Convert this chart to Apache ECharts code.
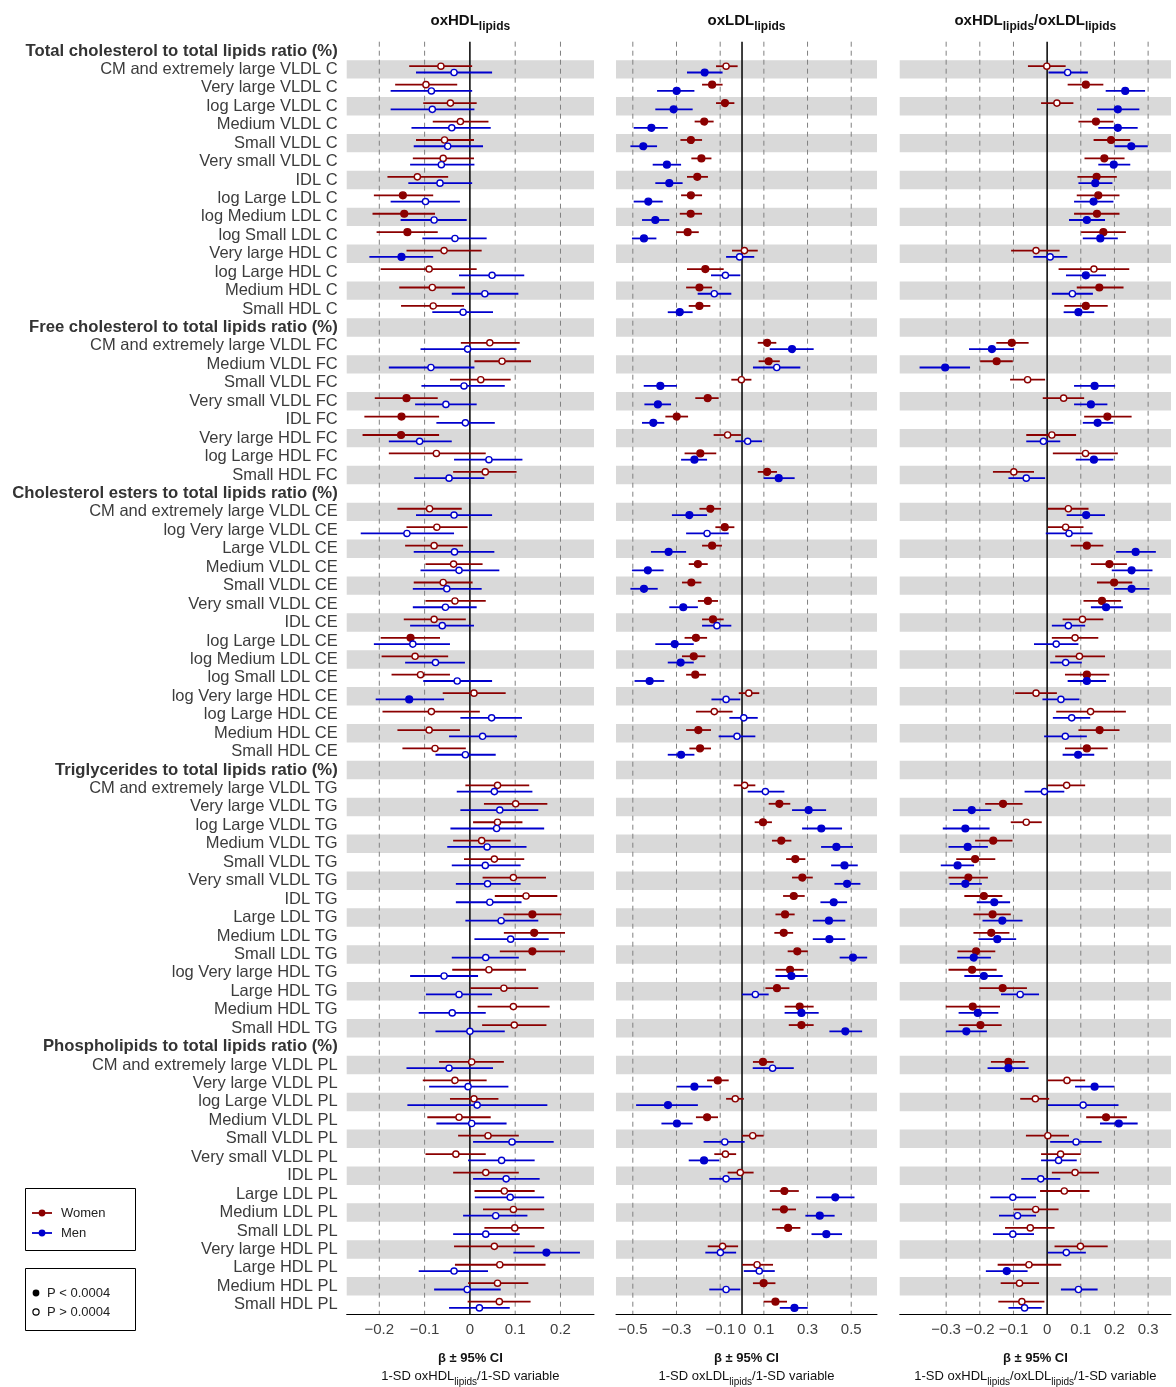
<!DOCTYPE html>
<html>
<head>
<meta charset="utf-8">
<script src="https://cdn.jsdelivr.net/npm/echarts@6/dist/echarts.min.js"></script>
<style>
  html, body { margin: 0; padding: 0; background: #fff; }
  #chart { width: 1176px; height: 1387px; }
</style>
</head>
<body>
<div id="chart"></div>
<script>
// Row labels, top to bottom; section headings are listed in headerRows
const rowLabels = [
  'Total cholesterol to total lipids ratio (%)',
  'CM and extremely large VLDL C', 'Very large VLDL C', 'log Large VLDL C', 'Medium VLDL C',
  'Small VLDL C', 'Very small VLDL C', 'IDL C', 'log Large LDL C', 'log Medium LDL C',
  'log Small LDL C', 'Very large HDL C', 'log Large HDL C', 'Medium HDL C', 'Small HDL C',
  'Free cholesterol to total lipids ratio (%)',
  'CM and extremely large VLDL FC', 'Medium VLDL FC', 'Small VLDL FC', 'Very small VLDL FC',
  'IDL FC', 'Very large HDL FC', 'log Large HDL FC', 'Small HDL FC',
  'Cholesterol esters to total lipids ratio (%)',
  'CM and extremely large VLDL CE', 'log Very large VLDL CE', 'Large VLDL CE', 'Medium VLDL CE',
  'Small VLDL CE', 'Very small VLDL CE', 'IDL CE', 'log Large LDL CE', 'log Medium LDL CE',
  'log Small LDL CE', 'log Very large HDL CE', 'log Large HDL CE', 'Medium HDL CE', 'Small HDL CE',
  'Triglycerides to total lipids ratio (%)',
  'CM and extremely large VLDL TG', 'Very large VLDL TG', 'log Large VLDL TG', 'Medium VLDL TG',
  'Small VLDL TG', 'Very small VLDL TG', 'IDL TG', 'Large LDL TG', 'Medium LDL TG',
  'Small LDL TG', 'log Very large HDL TG', 'Large HDL TG', 'Medium HDL TG', 'Small HDL TG',
  'Phospholipids to total lipids ratio (%)',
  'CM and extremely large VLDL PL', 'Very large VLDL PL', 'log Large VLDL PL', 'Medium VLDL PL',
  'Small VLDL PL', 'Very small VLDL PL', 'IDL PL', 'Large LDL PL', 'Medium LDL PL',
  'Small LDL PL', 'Very large HDL PL', 'Large HDL PL', 'Medium HDL PL', 'Small HDL PL'
];
const headerRows = [0, 15, 24, 39, 54];

// Each entry: [beta, lower 95% CI, upper 95% CI, significant (P < 0.0004)]; null on heading rows
const oxHdlWomen = [
  null,
  [-0.064,-0.134,0.005,0],[-0.097,-0.165,-0.028,0],[-0.043,-0.103,0.015,0],[-0.021,-0.082,0.041,0],
  [-0.056,-0.119,0.009,0],[-0.059,-0.126,0.009,0],[-0.116,-0.182,-0.048,0],[-0.148,-0.212,-0.081,1],
  [-0.145,-0.215,-0.077,1],[-0.138,-0.206,-0.071,1],[-0.057,-0.140,0.026,0],[-0.090,-0.197,0.015,0],
  [-0.083,-0.156,-0.011,0],[-0.081,-0.152,-0.013,0],
  null,
  [0.044,-0.020,0.110,0],[0.071,0.010,0.135,0],[0.024,-0.044,0.090,0],[-0.140,-0.210,-0.071,1],
  [-0.151,-0.233,-0.068,1],[-0.152,-0.237,-0.068,1],[-0.074,-0.179,0.035,0],[0.034,-0.037,0.103,0],
  null,
  [-0.089,-0.160,-0.018,0],[-0.073,-0.140,-0.005,0],[-0.079,-0.143,-0.015,0],[-0.036,-0.098,0.028,0],
  [-0.059,-0.124,0.006,0],[-0.033,-0.098,0.035,0],[-0.079,-0.146,-0.009,0],[-0.131,-0.197,-0.066,1],
  [-0.121,-0.195,-0.048,0],[-0.109,-0.173,-0.044,0],[0.009,-0.060,0.079,0],[-0.085,-0.193,0.022,0],
  [-0.090,-0.160,-0.022,0],[-0.077,-0.149,-0.009,0],
  null,
  [0.061,-0.010,0.131,0],[0.101,0.031,0.171,0],[0.061,0.007,0.116,0],[0.026,-0.037,0.090,0],
  [0.054,-0.013,0.120,0],[0.096,0.028,0.168,0],[0.124,0.055,0.193,0],[0.138,0.074,0.202,1],
  [0.142,0.075,0.210,1],[0.138,0.066,0.210,1],[0.042,-0.039,0.124,0],[0.075,0.001,0.151,0],
  [0.096,0.017,0.176,0],[0.098,0.027,0.169,0],
  null,
  [0.004,-0.068,0.075,0],[-0.033,-0.104,0.037,0],[0.009,-0.044,0.063,0],[-0.024,-0.094,0.046,0],
  [0.040,-0.026,0.108,0],[-0.031,-0.098,0.035,0],[0.035,-0.037,0.108,0],[0.076,0.010,0.143,0],
  [0.096,0.029,0.164,0],[0.099,0.032,0.164,0],[0.054,-0.035,0.143,0],[0.066,-0.033,0.167,0],
  [0.061,-0.004,0.129,0],[0.065,-0.005,0.134,0]
];
const oxHdlMen = [
  null,
  [-0.035,-0.119,0.049,0],[-0.085,-0.175,0.005,0],[-0.083,-0.175,0.010,0],[-0.040,-0.129,0.046,0],
  [-0.049,-0.124,0.029,0],[-0.063,-0.132,0.010,0],[-0.066,-0.136,0.005,0],[-0.098,-0.175,-0.022,0],
  [-0.079,-0.153,-0.007,0],[-0.033,-0.105,0.037,0],[-0.151,-0.222,-0.081,1],[0.049,-0.024,0.120,0],
  [0.033,-0.040,0.107,0],[-0.015,-0.083,0.051,0],
  null,
  [-0.005,-0.109,0.103,0],[-0.086,-0.179,0.010,0],[-0.013,-0.107,0.077,0],[-0.053,-0.121,0.015,0],
  [-0.010,-0.074,0.055,0],[-0.111,-0.179,-0.040,0],[0.042,-0.035,0.116,0],[-0.046,-0.123,0.032,0],
  null,
  [-0.035,-0.119,0.049,0],[-0.139,-0.241,-0.035,0],[-0.034,-0.124,0.054,0],[-0.024,-0.109,0.065,0],
  [-0.051,-0.126,0.026,0],[-0.054,-0.126,0.015,0],[-0.061,-0.132,0.009,0],[-0.126,-0.212,-0.044,0],
  [-0.076,-0.143,-0.011,0],[-0.028,-0.103,0.049,0],[-0.134,-0.208,-0.057,1],[0.048,-0.021,0.115,0],
  [0.028,-0.046,0.104,0],[-0.010,-0.076,0.057,0],
  null,
  [0.054,-0.029,0.138,0],[0.066,-0.021,0.151,0],[0.059,-0.043,0.164,0],[0.038,-0.050,0.125,0],
  [0.034,-0.040,0.112,0],[0.039,-0.031,0.112,0],[0.044,-0.031,0.114,0],[0.069,-0.010,0.151,0],
  [0.090,0.010,0.174,0],[0.035,-0.040,0.108,0],[-0.057,-0.132,0.018,0],[-0.024,-0.097,0.049,0],
  [-0.039,-0.113,0.035,0],[0.000,-0.076,0.077,0],
  null,
  [-0.046,-0.140,0.051,0],[-0.004,-0.090,0.085,0],[0.016,-0.138,0.171,0],[0.004,-0.074,0.081,0],
  [0.093,0.007,0.185,0],[0.070,-0.004,0.143,0],[0.080,0.007,0.154,0],[0.089,0.011,0.164,0],
  [0.057,-0.015,0.127,0],[0.035,-0.037,0.110,0],[0.169,0.096,0.243,1],[-0.035,-0.113,0.040,0],
  [-0.006,-0.079,0.068,0],[0.021,-0.046,0.088,0]
];
const oxLdlWomen = [
  null,
  [-0.073,-0.119,-0.020,0],[-0.137,-0.183,-0.089,1],[-0.078,-0.119,-0.035,1],[-0.173,-0.217,-0.130,1],
  [-0.234,-0.282,-0.183,1],[-0.186,-0.232,-0.140,1],[-0.205,-0.252,-0.156,1],[-0.234,-0.279,-0.183,1],
  [-0.235,-0.285,-0.183,1],[-0.249,-0.301,-0.198,1],[0.011,-0.046,0.072,0],[-0.168,-0.252,-0.084,1],
  [-0.195,-0.256,-0.137,1],[-0.195,-0.244,-0.145,1],
  null,
  [0.115,0.072,0.157,1],[0.122,0.076,0.173,1],[-0.003,-0.049,0.043,0],[-0.157,-0.214,-0.107,1],
  [-0.299,-0.351,-0.247,1],[-0.066,-0.130,-0.005,0],[-0.191,-0.263,-0.118,1],[0.115,0.072,0.160,1],
  null,
  [-0.145,-0.195,-0.096,1],[-0.079,-0.122,-0.035,1],[-0.137,-0.183,-0.092,1],[-0.202,-0.244,-0.157,1],
  [-0.232,-0.275,-0.186,1],[-0.156,-0.202,-0.110,1],[-0.133,-0.183,-0.084,1],[-0.211,-0.263,-0.160,1],
  [-0.221,-0.275,-0.168,1],[-0.214,-0.256,-0.165,1],[0.031,-0.015,0.079,0],[-0.127,-0.211,-0.043,0],
  [-0.200,-0.256,-0.142,1],[-0.192,-0.241,-0.142,1],
  null,
  [0.012,-0.038,0.061,0],[0.171,0.122,0.221,1],[0.096,0.058,0.137,1],[0.180,0.137,0.226,1],
  [0.244,0.202,0.290,1],[0.276,0.229,0.324,1],[0.237,0.188,0.287,1],[0.197,0.153,0.241,1],
  [0.191,0.148,0.234,1],[0.253,0.209,0.301,1],[0.220,0.153,0.282,1],[0.160,0.107,0.217,1],
  [0.264,0.195,0.328,1],[0.272,0.214,0.328,1],
  null,
  [0.096,0.050,0.145,1],[-0.111,-0.160,-0.061,1],[-0.031,-0.073,0.008,0],[-0.160,-0.211,-0.110,1],
  [0.049,0.000,0.099,0],[-0.076,-0.127,-0.027,0],[-0.008,-0.066,0.053,0],[0.194,0.127,0.260,1],
  [0.192,0.137,0.247,1],[0.211,0.157,0.267,1],[-0.089,-0.157,-0.018,0],[0.069,0.000,0.142,0],
  [0.099,0.050,0.153,1],[0.153,0.099,0.206,1]
];
const oxLdlMen = [
  null,
  [-0.171,-0.252,-0.089,1],[-0.299,-0.389,-0.218,1],[-0.313,-0.397,-0.226,1],[-0.415,-0.496,-0.340,1],
  [-0.452,-0.511,-0.389,1],[-0.344,-0.409,-0.279,1],[-0.333,-0.397,-0.272,1],[-0.429,-0.496,-0.363,1],
  [-0.397,-0.458,-0.333,1],[-0.449,-0.504,-0.392,1],[-0.011,-0.073,0.056,0],[-0.076,-0.142,-0.008,0],
  [-0.127,-0.203,-0.049,0],[-0.285,-0.340,-0.226,1],
  null,
  [0.229,0.127,0.328,1],[0.159,0.050,0.267,0],[-0.374,-0.450,-0.298,1],[-0.385,-0.447,-0.325,1],
  [-0.406,-0.458,-0.356,1],[0.026,-0.031,0.092,0],[-0.218,-0.279,-0.160,1],[0.168,0.099,0.241,1],
  null,
  [-0.241,-0.321,-0.160,1],[-0.160,-0.256,-0.061,0],[-0.336,-0.417,-0.256,1],[-0.431,-0.504,-0.359,1],
  [-0.449,-0.511,-0.386,1],[-0.269,-0.333,-0.202,1],[-0.115,-0.183,-0.049,0],[-0.308,-0.397,-0.221,1],
  [-0.281,-0.340,-0.221,1],[-0.423,-0.492,-0.356,1],[-0.073,-0.140,-0.008,0],[0.008,-0.058,0.072,0],
  [-0.023,-0.107,0.061,0],[-0.279,-0.340,-0.218,1],
  null,
  [0.107,0.026,0.194,0],[0.305,0.229,0.385,1],[0.363,0.275,0.458,1],[0.432,0.362,0.508,1],
  [0.469,0.408,0.530,1],[0.481,0.423,0.542,1],[0.420,0.359,0.481,1],[0.398,0.324,0.473,1],
  [0.400,0.324,0.473,1],[0.508,0.447,0.573,1],[0.226,0.153,0.301,1],[0.061,0.000,0.122,0],
  [0.272,0.195,0.351,1],[0.473,0.400,0.550,1],
  null,
  [0.140,0.049,0.237,0],[-0.218,-0.298,-0.137,1],[-0.339,-0.485,-0.202,1],[-0.298,-0.369,-0.226,1],
  [-0.079,-0.176,0.012,0],[-0.174,-0.244,-0.104,1],[-0.073,-0.150,-0.005,0],[0.427,0.339,0.515,1],
  [0.356,0.290,0.424,1],[0.386,0.318,0.458,1],[-0.099,-0.168,-0.027,0],[0.079,0.008,0.150,0],
  [-0.073,-0.150,-0.008,0],[0.240,0.173,0.301,1]
];
const ratioWomen = [
  null,
  [-0.001,-0.057,0.055,0],[0.115,0.061,0.167,1],[0.029,-0.018,0.078,0],[0.145,0.093,0.197,1],
  [0.190,0.138,0.247,1],[0.170,0.111,0.230,1],[0.147,0.090,0.207,1],[0.152,0.088,0.215,1],
  [0.148,0.080,0.215,1],[0.167,0.101,0.234,1],[-0.033,-0.107,0.037,0],[0.139,0.034,0.244,0],
  [0.155,0.088,0.227,1],[0.115,0.051,0.180,1],
  null,
  [-0.105,-0.151,-0.055,1],[-0.150,-0.199,-0.102,1],[-0.058,-0.110,-0.006,0],[0.049,-0.013,0.110,0],
  [0.179,0.110,0.251,1],[0.014,-0.062,0.086,0],[0.114,0.017,0.210,0],[-0.099,-0.161,-0.039,0],
  null,
  [0.063,0.002,0.123,0],[0.055,0.002,0.108,0],[0.118,0.070,0.167,1],[0.185,0.130,0.237,1],
  [0.199,0.148,0.253,1],[0.163,0.108,0.220,1],[0.105,0.046,0.167,0],[0.083,0.014,0.152,0],
  [0.096,0.024,0.172,0],[0.118,0.053,0.185,1],[-0.033,-0.095,0.029,0],[0.129,0.027,0.234,0],
  [0.156,0.093,0.215,1],[0.118,0.053,0.180,1],
  null,
  [0.058,0.002,0.113,0],[-0.131,-0.184,-0.073,1],[-0.062,-0.108,-0.016,0],[-0.160,-0.214,-0.103,1],
  [-0.214,-0.270,-0.154,1],[-0.234,-0.293,-0.176,1],[-0.188,-0.246,-0.133,1],[-0.162,-0.219,-0.108,1],
  [-0.166,-0.219,-0.112,1],[-0.211,-0.266,-0.154,1],[-0.223,-0.293,-0.150,1],[-0.132,-0.201,-0.060,1],
  [-0.221,-0.301,-0.140,1],[-0.198,-0.263,-0.135,1],
  null,
  [-0.115,-0.167,-0.065,1],[0.059,0.002,0.113,0],[-0.035,-0.080,0.006,0],[0.175,0.116,0.237,1],
  [0.002,-0.063,0.065,0],[0.040,-0.018,0.100,0],[0.083,0.014,0.154,0],[0.051,-0.021,0.126,0],
  [-0.034,-0.100,0.034,0],[-0.050,-0.125,0.022,0],[0.099,0.022,0.180,0],[-0.054,-0.147,0.042,0],
  [-0.082,-0.138,-0.024,0],[-0.075,-0.145,-0.008,0]
];
const ratioMen = [
  null,
  [0.061,0.004,0.121,0],[0.232,0.174,0.291,1],[0.210,0.148,0.274,1],[0.210,0.152,0.269,1],
  [0.250,0.200,0.299,1],[0.198,0.152,0.247,1],[0.143,0.093,0.194,1],[0.138,0.080,0.197,1],
  [0.118,0.065,0.172,1],[0.158,0.106,0.210,1],[0.009,-0.041,0.060,0],[0.115,0.056,0.175,1],
  [0.075,0.014,0.136,0],[0.093,0.049,0.140,1],
  null,
  [-0.164,-0.232,-0.098,1],[-0.303,-0.379,-0.229,1],[0.141,0.080,0.202,1],[0.130,0.080,0.179,1],
  [0.150,0.106,0.197,1],[-0.011,-0.062,0.039,0],[0.139,0.085,0.197,1],[-0.062,-0.115,-0.006,0],
  null,
  [0.116,0.058,0.172,1],[0.065,-0.004,0.135,0],[0.263,0.205,0.323,1],[0.251,0.192,0.313,1],
  [0.251,0.199,0.304,1],[0.175,0.130,0.225,1],[0.063,0.014,0.113,0],[0.027,-0.039,0.093,0],
  [0.055,0.009,0.103,0],[0.118,0.061,0.175,1],[0.041,-0.014,0.096,0],[0.073,0.017,0.128,0],
  [0.054,-0.009,0.118,0],[0.092,0.046,0.140,1],
  null,
  [-0.008,-0.067,0.051,0],[-0.224,-0.280,-0.166,1],[-0.243,-0.310,-0.171,1],[-0.236,-0.293,-0.176,1],
  [-0.266,-0.316,-0.217,1],[-0.243,-0.290,-0.194,1],[-0.157,-0.209,-0.110,1],[-0.133,-0.192,-0.073,1],
  [-0.148,-0.204,-0.092,1],[-0.218,-0.268,-0.167,1],[-0.188,-0.246,-0.132,1],[-0.080,-0.137,-0.024,0],
  [-0.206,-0.263,-0.145,1],[-0.240,-0.301,-0.179,1],
  null,
  [-0.115,-0.177,-0.055,1],[0.141,0.083,0.199,1],[0.107,0.002,0.212,0],[0.213,0.157,0.269,1],
  [0.086,0.009,0.162,0],[0.034,-0.018,0.088,0],[-0.019,-0.077,0.039,0],[-0.102,-0.169,-0.033,0],
  [-0.088,-0.143,-0.033,0],[-0.102,-0.161,-0.039,0],[0.057,0.002,0.115,0],[-0.120,-0.182,-0.058,1],
  [0.093,0.041,0.150,0],[-0.067,-0.115,-0.016,0]
];

// Tick values for each panel's x axis (0 gets the solid reference line)
const ticksHdl = [-0.2, -0.1, 0, 0.1, 0.2];
const ticksLdl = [-0.5, -0.3, -0.1, 0, 0.1, 0.3, 0.5];
const ticksRatio = [-0.3, -0.2, -0.1, 0, 0.1, 0.2, 0.3];

const FONT = 'Liberation Sans, Arial, Helvetica, sans-serif';
const WOMEN = '#8b0000';
const MEN = '#0000cd';
const GRID_TOP = 41.7;
const GRID_H = 1272.3;
const N = rowLabels.length;

const panels = [
  { left: 346.7, width: 247.3, min: -0.272, max: 0.274, ticks: ticksHdl,
    women: oxHdlWomen, men: oxHdlMen,
    title: '{m|oxHDL}{s|lipids}',
    foot: '{m|1-SD oxHDL}{s|lipids}{m|/1-SD variable}' },
  { left: 616, width: 261, min: -0.577, max: 0.618, ticks: ticksLdl,
    women: oxLdlWomen, men: oxLdlMen,
    title: '{m|oxLDL}{s|lipids}',
    foot: '{m|1-SD oxLDL}{s|lipids}{m|/1-SD variable}' },
  { left: 899.7, width: 271.3, min: -0.438, max: 0.368, ticks: ticksRatio,
    women: ratioWomen, men: ratioMen,
    title: '{m|oxHDL}{s|lipids}{m|/oxLDL}{s|lipids}',
    foot: '{m|1-SD oxHDL}{s|lipids}{m|/oxLDL}{s|lipids}{m|/1-SD variable}' }
];

const stripeRows = [];
for (let r = 1; r < N; r += 2) stripeRows.push([r]);

function toPoints(arr, offset) {
  const out = [];
  arr.forEach((d, r) => { if (d) out.push([d[0], d[1], d[2], r + offset, d[3]]); });
  return out;
}

function forestRenderer(color) {
  return function (params, api) {
    const yv = api.value(3);
    const pe = api.coord([api.value(0), yv]);
    const pl = api.coord([api.value(1), yv]);
    const ph = api.coord([api.value(2), yv]);
    const sig = api.value(4) === 1;
    return {
      type: 'group',
      children: [
        { type: 'line', shape: { x1: pl[0], y1: pe[1], x2: ph[0], y2: pe[1] },
          style: { stroke: color, lineWidth: 1.8 } },
        { type: 'circle', shape: { cx: pe[0], cy: pe[1], r: sig ? 3.4 : 3.1 },
          style: { fill: sig ? color : '#ffffff', stroke: color, lineWidth: 1.4 } }
      ]
    };
  };
}

function tickText(v) {
  const r = Math.round(v * 10) / 10;
  return r < 0 ? '\u2212' + String(-r) : String(r);
}

const grids = [], xAxes = [], yAxes = [], series = [];
panels.forEach((p, i) => {
  grids.push({ left: p.left, top: GRID_TOP, width: p.width, height: GRID_H });
  xAxes.push({
    type: 'value', gridIndex: i, min: p.min, max: p.max, position: 'bottom',
    axisLine: { show: true, onZero: false, lineStyle: { color: '#000', width: 1 } },
    axisTick: { show: false },
    splitLine: { show: false },
    axisLabel: { customValues: p.ticks, margin: 8, color: '#3f3f3f', fontSize: 15, fontFamily: FONT,
      formatter: tickText }
  });
  yAxes.push({ type: 'value', gridIndex: i, min: -0.5, max: N - 0.5, inverse: true, show: false });

  // alternating row shading
  series.push({
    type: 'custom', xAxisIndex: i, yAxisIndex: i, silent: true, z: 1,
    data: stripeRows, encode: { y: 0 },
    renderItem: (params, api) => {
      const r = api.value(0);
      const cs = params.coordSys;
      const t = api.coord([0, r - 0.5])[1];
      const b = api.coord([0, r + 0.5])[1];
      return { type: 'rect', shape: { x: cs.x, y: t, width: cs.width, height: b - t },
        style: { fill: '#d9d9d9' } };
    }
  });
  // dashed reference lines at the non-zero ticks, solid line at zero
  series.push({
    type: 'custom', xAxisIndex: i, yAxisIndex: i, silent: true, z: 2,
    data: p.ticks.map(v => [v]), encode: { x: 0 },
    renderItem: (params, api) => {
      const v = api.value(0);
      const cs = params.coordSys;
      const x = api.coord([v, 0])[0];
      return v === 0
        ? { type: 'line', shape: { x1: x, y1: cs.y, x2: x, y2: cs.y + cs.height },
            style: { stroke: '#000', lineWidth: 1.5 } }
        : { type: 'line', shape: { x1: x, y1: cs.y, x2: x, y2: cs.y + cs.height },
            style: { stroke: '#808080', lineWidth: 1, lineDash: [5, 4] } };
    }
  });
  series.push({
    type: 'custom', name: 'Women', xAxisIndex: i, yAxisIndex: i, z: 3,
    data: toPoints(p.women, -0.17), encode: { x: [0, 1, 2], y: 3 },
    renderItem: forestRenderer(WOMEN)
  });
  series.push({
    type: 'custom', name: 'Men', xAxisIndex: i, yAxisIndex: i, z: 4,
    data: toPoints(p.men, 0.17), encode: { x: [0, 1, 2], y: 3 },
    renderItem: forestRenderer(MEN)
  });
});

// row labels on the left of the first panel
yAxes.push({
  type: 'category', gridIndex: 0, data: rowLabels, inverse: true, position: 'left',
  boundaryGap: true,
  axisLine: { show: false }, axisTick: { show: false }, splitLine: { show: false },
  axisLabel: {
    interval: 0, margin: 9, color: '#3c3c3c', fontSize: 16.5, fontFamily: FONT,
    formatter: (v, idx) => headerRows.indexOf(idx) >= 0 ? '{h|' + v + '}' : v,
    rich: { h: { fontWeight: 'bold', fontSize: 16.7, color: '#333', fontFamily: FONT } }
  }
});

function subRich(size, subSize, weight) {
  return {
    m: { font: weight + ' ' + size + 'px ' + FONT, fill: '#111', lineHeight: 18, verticalAlign: 'top' },
    s: { font: weight + ' ' + subSize + 'px ' + FONT, fill: '#111', lineHeight: 10,
         padding: [8, 0, 0, 0], verticalAlign: 'top' }
  };
}

const graphics = [];
panels.forEach(p => {
  const cx = p.left + p.width / 2;
  graphics.push({ type: 'text', x: cx, y: 22,
    style: { text: p.title, rich: subRich(15, 12, 'bold'), align: 'center', verticalAlign: 'middle' } });
  graphics.push({ type: 'text', x: cx, y: 1358,
    style: { text: 'β ± 95% CI', font: 'bold 13px ' + FONT, fill: '#111', align: 'center', verticalAlign: 'middle' } });
  graphics.push({ type: 'text', x: cx, y: 1378.5,
    style: { text: p.foot, rich: subRich(13, 10, 'normal'), align: 'center', verticalAlign: 'middle' } });
});

// legend boxes
graphics.push(
  { type: 'rect', shape: { x: 25.5, y: 1188.5, width: 110, height: 62 }, style: { fill: 'none', stroke: '#000', lineWidth: 1 } },
  { type: 'line', shape: { x1: 32, y1: 1213, x2: 52, y2: 1213 }, style: { stroke: WOMEN, lineWidth: 1.8 } },
  { type: 'circle', shape: { cx: 42, cy: 1213, r: 3.4 }, style: { fill: WOMEN } },
  { type: 'text', x: 61, y: 1213, style: { text: 'Women', font: '13px ' + FONT, fill: '#222', verticalAlign: 'middle' } },
  { type: 'line', shape: { x1: 32, y1: 1233, x2: 52, y2: 1233 }, style: { stroke: MEN, lineWidth: 1.8 } },
  { type: 'circle', shape: { cx: 42, cy: 1233, r: 3.4 }, style: { fill: MEN } },
  { type: 'text', x: 61, y: 1233, style: { text: 'Men', font: '13px ' + FONT, fill: '#222', verticalAlign: 'middle' } },
  { type: 'rect', shape: { x: 25.5, y: 1268.5, width: 110, height: 62 }, style: { fill: 'none', stroke: '#000', lineWidth: 1 } },
  { type: 'circle', shape: { cx: 36, cy: 1293, r: 3.4 }, style: { fill: '#000' } },
  { type: 'text', x: 47, y: 1293, style: { text: 'P < 0.0004', font: '13px ' + FONT, fill: '#222', verticalAlign: 'middle' } },
  { type: 'circle', shape: { cx: 36, cy: 1312, r: 3.1 }, style: { fill: '#fff', stroke: '#000', lineWidth: 1.2 } },
  { type: 'text', x: 47, y: 1312, style: { text: 'P > 0.0004', font: '13px ' + FONT, fill: '#222', verticalAlign: 'middle' } }
);

const chart = echarts.init(document.getElementById('chart'), null, { renderer: 'canvas' });
chart.setOption({
  animation: false,
  backgroundColor: '#ffffff',
  textStyle: { fontFamily: FONT },
  grid: grids,
  xAxis: xAxes,
  yAxis: yAxes,
  series: series,
  graphic: graphics
});
</script>
</body>
</html>
